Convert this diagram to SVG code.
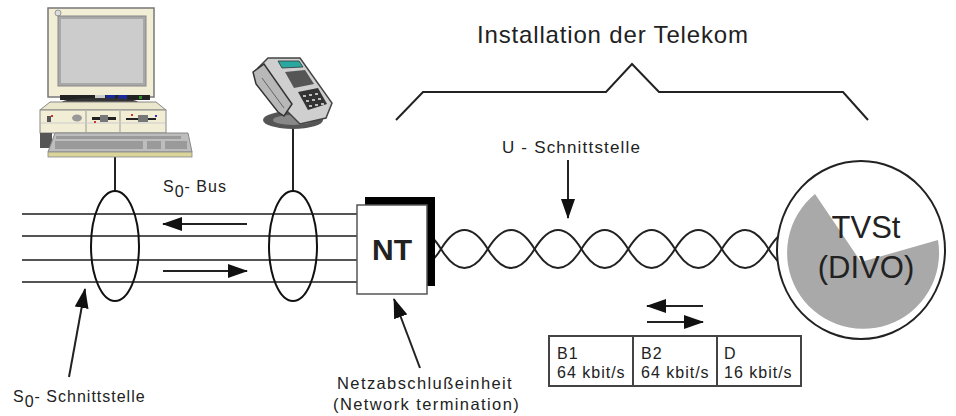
<svg xmlns="http://www.w3.org/2000/svg" width="956" height="416" viewBox="0 0 956 416">
  <style>
    text { font-family: "Liberation Sans", Arial, sans-serif; fill: #222; }
    .wire { stroke: #555; stroke-width: 2; fill: none; }
    .ln { stroke: #222; stroke-width: 2; fill: none; }
    .arrow { stroke: #222; stroke-width: 2; fill: none; marker-end: url(#head); }
    .twist { stroke: #222; stroke-width: 2; fill: none; }
    .cell { fill: #fff; stroke: #444; stroke-width: 2; }
    .lbl { font-size: 16px; letter-spacing: 1px; }
  </style>
  <defs>
    <marker id="head" viewBox="0 0 20 14" refX="19" refY="7" markerWidth="20" markerHeight="14" markerUnits="userSpaceOnUse" orient="auto">
      <path d="M0,0 L20,7 L0,14 Z" fill="#111"/>
    </marker>
  </defs>

  <!-- bracket over the carrier installation -->
  <g id="bracket">
    <polyline class="ln" points="396,120 423,92 606,92 632,64 659,92 843,92 868,120"/>
    <text x="477" y="43" font-size="24" textLength="271" lengthAdjust="spacing">Installation der Telekom</text>
  </g>

  <!-- connectors -->
  <g id="connectors">
    <!-- S0 bus wires -->
    <line class="wire" x1="22" y1="214" x2="358" y2="214"/>
    <line class="wire" x1="22" y1="236" x2="358" y2="236"/>
    <line class="wire" x1="22" y1="260" x2="358" y2="260"/>
    <line class="wire" x1="22" y1="282" x2="358" y2="282"/>
    <!-- device drops -->
    <line class="ln" x1="115" y1="157" x2="115" y2="192"/>
    <line class="ln" x1="293" y1="126" x2="293" y2="192"/>
    <!-- direction arrows on the bus -->
    <line class="arrow" x1="247" y1="224" x2="163" y2="224"/>
    <line class="arrow" x1="163" y1="271" x2="247" y2="271"/>
    <!-- twisted pair U interface -->
    <path class="twist" d="M394.2,249 Q417.6,211 441,249 T487.8,249 T534.6,249 T581.4,249 T628.2,249 T675,249 T721.8,249 T768.6,249 T815.4,249"/>
    <path class="twist" d="M394.2,249 Q417.6,287 441,249 T487.8,249 T534.6,249 T581.4,249 T628.2,249 T675,249 T721.8,249 T768.6,249 T815.4,249"/>
    <!-- pointer arrows -->
    <line class="arrow" x1="568" y1="160" x2="568" y2="218"/>
    <line class="arrow" x1="69" y1="377" x2="85" y2="289"/>
    <line class="arrow" x1="420" y1="368" x2="394" y2="299"/>
    <line class="arrow" x1="703" y1="306" x2="647" y2="306"/>
    <line class="arrow" x1="647" y1="322" x2="703" y2="322"/>
  </g>

  <!-- S0 interface taps -->
  <g id="tap-pc">
    <ellipse cx="115" cy="246" rx="24" ry="55" fill="none" stroke="#111" stroke-width="2"/>
  </g>
  <g id="tap-phone">
    <ellipse cx="293" cy="246" rx="24" ry="55" fill="none" stroke="#111" stroke-width="2"/>
  </g>

  <g id="bus-label">
    <text class="lbl" x="163" y="192">S<tspan dy="5">0</tspan><tspan dy="-5">- Bus</tspan></text>
  </g>

  <!-- personal computer -->
  <g id="pc">
    <!-- monitor -->
    <rect x="48" y="8" width="106" height="89" fill="#f2eed6" stroke="#777" stroke-width="1.5"/>
    <circle cx="58" cy="13" r="3" fill="#ddd" stroke="#999"/>
    <rect x="58" y="16" width="88" height="70" fill="#a8a8a8" stroke="#888"/>
    <rect x="61" y="19" width="82" height="64" fill="#cccccc"/>
    <!-- control strip -->
    <rect x="60" y="95" width="90" height="5" fill="#222"/>
    <rect x="95" y="95" width="10" height="5" fill="#ccc"/>
    <rect x="106" y="95" width="9" height="5" fill="#1a2a9a"/>
    <rect x="118" y="95" width="9" height="5" fill="#1a2a9a"/>
    <rect x="139" y="96" width="3" height="3" fill="#2a8a2a"/>
    <ellipse cx="100" cy="102" rx="38" ry="4" fill="#333"/>
    <!-- system unit -->
    <polygon points="50,102 156,102 166,110 40,110" fill="#ebe7cc" stroke="#888"/>
    <rect x="40" y="110" width="126" height="23" fill="#f2eed6" stroke="#888"/>
    <line x1="86" y1="111" x2="86" y2="132" stroke="#999"/>
    <line x1="120" y1="111" x2="120" y2="132" stroke="#999"/>
    <line x1="41" y1="123" x2="165" y2="123" stroke="#ccc"/>
    <rect x="47" y="116" width="4" height="6" fill="#555"/>
    <rect x="51" y="115" width="2" height="2" fill="#c33"/>
    <ellipse cx="77" cy="118" rx="5" ry="3.5" fill="#999"/>
    <rect x="92" y="117" width="24" height="3" fill="#222"/>
    <rect x="100" y="115" width="8" height="7" fill="#777"/>
    <rect x="94" y="121" width="2" height="2" fill="#c33"/>
    <rect x="126" y="118" width="30" height="2" fill="#222"/>
    <rect x="138" y="115" width="10" height="7" fill="#777"/>
    <rect x="131" y="114" width="2" height="2" fill="#c33"/>
    <rect x="155" y="115" width="2" height="2" fill="#33c"/>
    <!-- keyboard -->
    <rect x="40" y="133" width="12" height="15" fill="#555"/>
    <polygon points="55,133 188,133 192,152 48,152" fill="#bdbdbd" stroke="#888"/>
    <rect x="56" y="136" width="125" height="3" fill="#9a9a9a"/>
    <rect x="55" y="141" width="88" height="8" fill="#9a9a9a"/>
    <rect x="147" y="141" width="14" height="8" fill="#9a9a9a"/>
    <rect x="165" y="141" width="22" height="8" fill="#9a9a9a"/>
    <rect x="48" y="152" width="144" height="5" fill="#d8d49a" stroke="#888" stroke-width="0.8"/>
  </g>

  <!-- telephone -->
  <g id="phone">
    <ellipse cx="293" cy="120" rx="30" ry="9" fill="#555"/>
    <ellipse cx="293" cy="120" rx="20" ry="5" fill="#888"/>
    <polygon points="258,68 268,58 300,58 332,103 326,118 300,124 268,92" fill="#cfcfcf" stroke="#444" stroke-width="1.5"/>
    <!-- handset -->
    <polygon points="253,72 264,64 292,104 284,116 278,112 256,84" fill="#b8b8b8" stroke="#333" stroke-width="1.5"/>
    <line x1="262" y1="78" x2="284" y2="108" stroke="#666"/>
    <!-- display -->
    <polygon points="278,61 299,61 303,67 282,68" fill="#2aa8a0" stroke="#333" stroke-width="0.8"/>
    <!-- keys -->
    <polygon points="285,72 305,70 314,84 294,88" fill="#555"/>
    <polygon points="298,92 318,88 327,104 308,110" fill="#333"/>
    <g fill="#bbb">
      <rect x="303" y="95" width="3" height="2"/><rect x="309" y="94" width="3" height="2"/><rect x="315" y="93" width="3" height="2"/>
      <rect x="306" y="100" width="3" height="2"/><rect x="312" y="99" width="3" height="2"/><rect x="318" y="98" width="3" height="2"/>
      <rect x="309" y="105" width="3" height="2"/><rect x="315" y="104" width="3" height="2"/><rect x="321" y="103" width="3" height="2"/>
    </g>
  </g>

  <!-- network termination -->
  <g id="nt">
    <rect x="365" y="197" width="70" height="89" fill="#000"/>
    <rect x="357" y="205" width="70" height="89" fill="#fff" stroke="#555" stroke-width="1.5"/>
    <text x="392" y="260" font-size="30" font-weight="bold" text-anchor="middle">NT</text>
  </g>

  <!-- exchange -->
  <g id="exchange">
    <ellipse cx="861" cy="250" rx="84" ry="89" fill="#fff" stroke="#222" stroke-width="2"/>
    <path d="M861,262 L815,194 A76,76 0 1 0 938,240 Z" fill="#a9a9a9"/>
    <text x="866" y="238" font-size="31" text-anchor="middle">TVSt</text>
    <text x="866" y="278" font-size="31" text-anchor="middle">(DIVO)</text>
  </g>

  <g id="u-label">
    <text x="502" y="153" font-size="17" textLength="138" lengthAdjust="spacing">U - Schnittstelle</text>
  </g>

  <!-- channel table -->
  <g id="channels">
    <rect class="cell" x="549" y="336" width="84" height="50"/>
    <rect class="cell" x="633" y="336" width="84" height="50"/>
    <rect class="cell" x="717" y="336" width="84" height="50"/>
    <text class="lbl" x="557" y="359">B1</text>
    <text class="lbl" x="557" y="378">64 kbit/s</text>
    <text class="lbl" x="641" y="359">B2</text>
    <text class="lbl" x="641" y="378">64 kbit/s</text>
    <text class="lbl" x="724" y="359">D</text>
    <text class="lbl" x="724" y="378">16 kbit/s</text>
  </g>

  <g id="s0-label">
    <text class="lbl" x="13" y="402">S<tspan dy="5">0</tspan><tspan dy="-5">- Schnittstelle</tspan></text>
  </g>

  <g id="nt-label">
    <text x="337" y="389" font-size="16.5" letter-spacing="1.4">Netzabschlußeinheit</text>
    <text x="333" y="410" font-size="16.5" letter-spacing="1.4">(Network termination)</text>
  </g>
</svg>
